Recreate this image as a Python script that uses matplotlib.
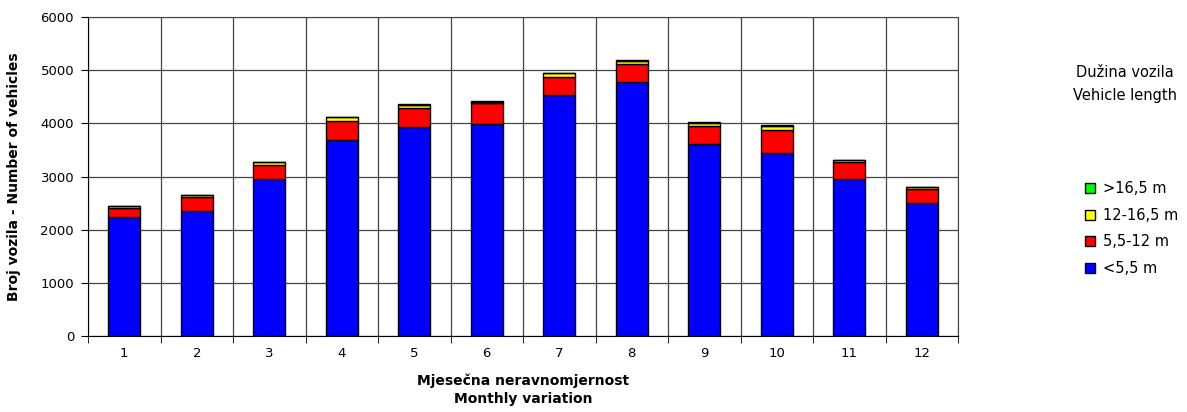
import numpy as np
import matplotlib.pyplot as plt
from matplotlib.patches import Patch

months = ['1', '2', '3', '4', '5', '6', '7', '8', '9', '10', '11', '12']
# vehicle counts per length class
short = [2235, 2360, 2950, 3690, 3930, 3990, 4525, 4770, 3605, 3450, 2955, 2505]   # <5,5 m
medium = [170, 250, 265, 355, 355, 390, 355, 350, 350, 420, 315, 260]              # 5,5-12 m
long_ = [35, 40, 55, 65, 60, 25, 60, 55, 60, 80, 35, 35]                           # 12-16,5 m
xlong = [8, 8, 8, 10, 10, 8, 10, 10, 10, 10, 8, 6]                                 # >16,5 m

labels = ['<5,5 m', '5,5-12 m', '12-16,5 m', '>16,5 m']
colors = ['#0000ff', '#ff0000', '#ffff00', '#00ff00']

fig = plt.figure(figsize=(11.87, 4.12), dpi=100)
ax = fig.add_axes([88 / 1187, 1 - 336 / 412, 870 / 1187, 319 / 412])

x = np.arange(1, len(months) + 1)
bottom = np.zeros(len(months))
for vals, col in zip([short, medium, long_, xlong], colors):
    ax.bar(x, vals, width=0.44, bottom=bottom, color=col, edgecolor='black',
           linewidth=1, zorder=3)
    bottom += np.array(vals)

ax.set_xlim(0.5, 12.5)
ax.set_ylim(0, 6000)
ax.set_yticks(np.arange(0, 6001, 1000))
ax.set_xticks(x)
ax.set_xticklabels(months)
ax.set_xticks(np.arange(0.5, 12.6, 1), minor=True)
ax.tick_params(axis='x', which='major', length=0, labelsize=9.5, pad=8)
ax.tick_params(axis='x', which='minor', length=5, color='black')
ax.tick_params(axis='y', labelsize=9.5, length=5, pad=5)
ax.grid(axis='y', which='major', color='#444444', linewidth=0.9, zorder=0)
ax.grid(axis='x', which='minor', color='#444444', linewidth=0.9, zorder=0)
for s in ['top', 'right']:
    ax.spines[s].set_color('#444444')

ax.set_xlabel('Mjesečna neravnomjernost\nMonthly variation', fontsize=10,
              fontweight='bold', labelpad=10, linespacing=1.3)
ax.set_ylabel('Broj vozila - Number of vehicles', fontsize=10,
              fontweight='bold', labelpad=14)

fig.text(1125 / 1187, 1 - 84 / 412, 'Dužina vozila\nVehicle length',
         ha='center', va='center', fontsize=10.5, linespacing=1.6)
handles = [Patch(facecolor=c, edgecolor='black', label=l)
           for c, l in zip(colors, labels)][::-1]
fig.legend(handles=handles, loc='upper left', bbox_to_anchor=(1072 / 1187, 1 - 168 / 412),
           frameon=False, fontsize=10.5, handlelength=0.7, handleheight=0.7,
           handletextpad=0.5, labelspacing=0.8)

plt.savefig('out.png', dpi=100)
